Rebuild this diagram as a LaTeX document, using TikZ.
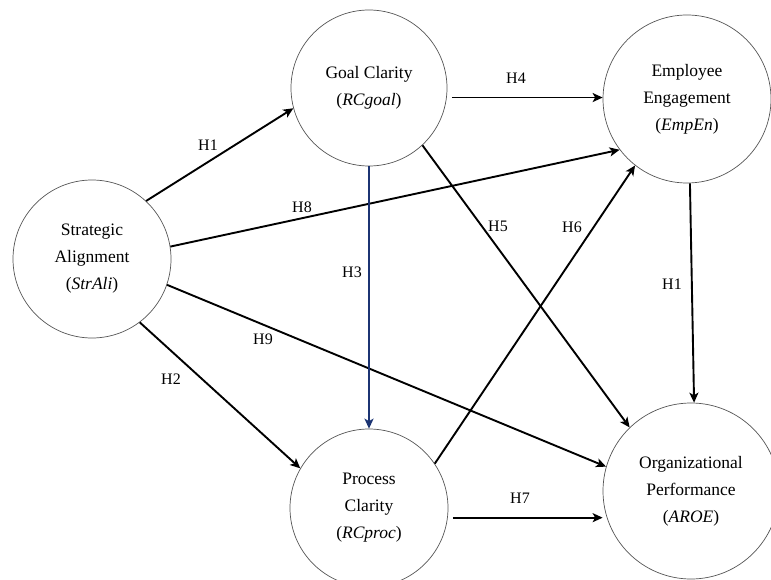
\documentclass[tikz,border=0pt]{standalone}
\usepackage{fontspec}
\setmainfont{Liberation Serif}
\usetikzlibrary{arrows.meta}
\definecolor{navyline}{RGB}{28,52,115}
\definecolor{ringgray}{RGB}{85,85,85}
\begin{document}
\begin{tikzpicture}[x=1pt,y=-1pt,
  construct/.style={circle,draw=ringgray,line width=0.7pt,minimum size=#1,inner sep=0pt,align=center,font=\fontsize{17.5}{27}\selectfont},
  link/.style={line width=1.9pt,-{Stealth[length=10pt,width=9pt,inset=2.5pt]}},
  hyp/.style={font=\fontsize{16}{18}\selectfont,inner sep=0pt}]
\useasboundingbox (0,0) rectangle (771,580);
\clip (0,0) rectangle (771,580);
\fill[white] (0,0) rectangle (771,580);

\node[construct=158pt] (sa) at (92,259) {Strategic\\Alignment\\(\textit{StrAli})};
\node[construct=156pt] (gc) at (369,88) {Goal Clarity\\(\textit{RCgoal})};
\node[construct=168pt] (ee) at (687,99) {Employee\\Engagement\\(\textit{EmpEn})};
\node[construct=158pt] (pc) at (369,508) {Process\\Clarity\\(\textit{RCproc})};
\node[construct=176pt] (op) at (691,491) {Organizational\\Performance\\(\textit{AROE})};

\draw[link] (sa.47) -- (gc.195);
\draw[link] (sa.9) -- (ee.217);
\draw[link] (sa.-19) -- (op.164);
\draw[link] (sa.-53) -- (pc.150);
\draw[link,draw=navyline,fill=navyline,line width=2.3pt] (gc.270) -- (pc.90);
\draw[link,shorten <=5pt] (gc.-7) -- (gc.-7 -| ee.west);
\draw[link] (gc.-47) -- (op.134);
\draw[link] (pc.34) -- (ee.232);
\draw[link,shorten <=5pt] (pc.-7) -- (pc.-7 -| op.west);
\draw[link] (ee.-88) -- (op.88);

\node[hyp] (h1) at (208,145) {H1};
\node[hyp] (h8) at (302,207) {H8};
\node[hyp] (h9) at (263,339) {H9};
\node[hyp] (h2) at (171,379) {H2};
\node[hyp] (h3) at (352,272) {H3};
\node[hyp] (h5) at (498,226) {H5};
\node[hyp] (h6) at (572,227) {H6};
\node[hyp] (h4) at (516,78) {H4};
\node[hyp] (h7) at (520,498) {H7};
\node[hyp] (h1b) at (672,284) {H1};
\end{tikzpicture}
\end{document}
